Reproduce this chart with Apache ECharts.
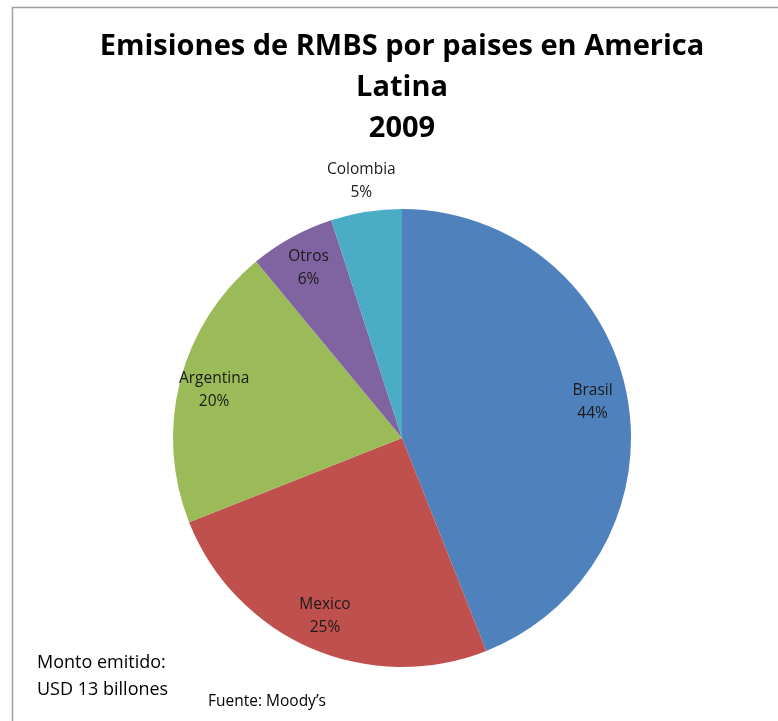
<!DOCTYPE html>
<html><head><meta charset="utf-8">
<script src="https://cdn.jsdelivr.net/npm/echarts@6/dist/echarts.min.js"></script>
<style>html,body{margin:0;padding:0;background:#fff}#c{width:778px;height:721px}</style>
</head><body><div id="c"></div>
<script>
const categories = ['Brasil', 'Mexico', 'Argentina', 'Otros', 'Colombia'];
const values = [44, 25, 20, 6, 5];
const colors = ['#4F81BD', '#C0504D', '#9BBB59', '#8064A2', '#4BACC6'];
const outsideLabels = ['Colombia'];
const titleText = 'Emisiones de RMBS por paises en America\nLatina\n2009';
const noteText = 'Monto emitido:\nUSD 13 billones';
const sourceText = 'Fuente: Moody\u2019s';

const font = '"Open Sans", sans-serif';
const center = [402, 438];
const R = 229;
const labelStyle = { color: '#1a1a1a', fontSize: 15.5, fontFamily: font, lineHeight: 23, formatter: '{b}\n{d}%' };

const baseData = categories.map((c, i) => ({ name: c, value: values[i], itemStyle: { color: colors[i] } }));
const transparent = { color: 'rgba(0,0,0,0)' };

const chart = echarts.init(document.getElementById('c'));
chart.setOption({
  animation: false,
  graphic: [
    { type: 'rect', shape: { x: 12.5, y: 7.5, width: 900, height: 900 }, style: { fill: 'none', stroke: '#a0a0a0', lineWidth: 1.5 }, silent: true },
    { type: 'text', x: 402, y: 26, style: { text: titleText, align: 'center', fontFamily: font, fontWeight: 'bold', fontSize: 29, lineHeight: 41, fill: '#000' } },
    { type: 'text', left: 37, top: 649, style: { text: noteText, fontFamily: font, fontSize: 18, lineHeight: 27, fill: '#000' } },
    { type: 'text', left: 208, top: 694, style: { text: sourceText, fontFamily: font, fontSize: 15.5, fill: '#000' } }
  ],
  series: [
    {
      type: 'pie', center: center, radius: [0, R], startAngle: 90, clockwise: true,
      label: { show: false }, labelLine: { show: false }, silent: true,
      data: baseData
    },
    {
      type: 'pie', center: center, radius: [150, 232], startAngle: 90, clockwise: true, silent: true,
      itemStyle: transparent, labelLine: { show: false },
      label: Object.assign({ position: 'inside' }, labelStyle),
      data: categories.map((c, i) => ({ name: c, value: values[i], itemStyle: transparent, label: { show: !outsideLabels.includes(c) } }))
    },
    {
      type: 'pie', center: center, radius: [236, 278], startAngle: 90, clockwise: true, silent: true,
      itemStyle: transparent, labelLine: { show: false },
      label: Object.assign({ position: 'inside' }, labelStyle),
      data: categories.map((c, i) => ({ name: c, value: values[i], itemStyle: transparent, label: { show: outsideLabels.includes(c) } }))
    }
  ]
});
</script></body></html>
